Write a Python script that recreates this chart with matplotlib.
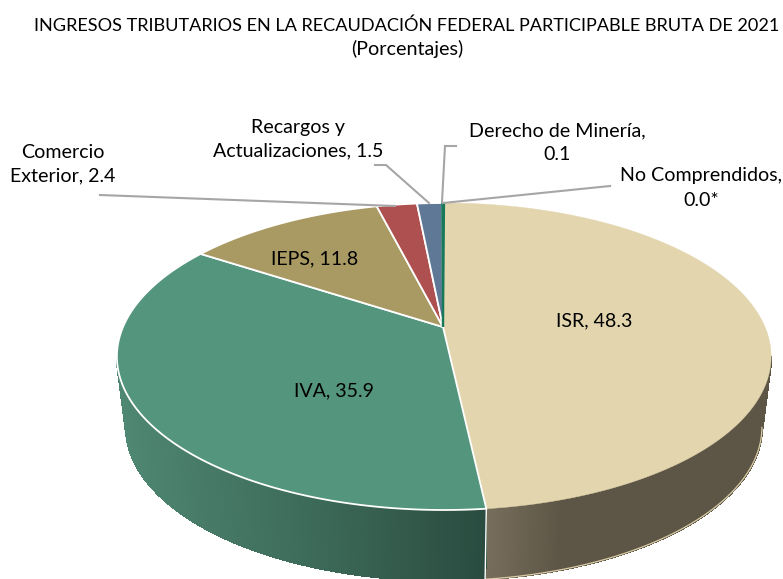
import numpy as np
import matplotlib
matplotlib.use("Agg")
import matplotlib.pyplot as plt
from matplotlib.collections import LineCollection, PolyCollection

plt.rcParams['font.family'] = ['Lato', 'DejaVu Sans']

title_lines = ["INGRESOS TRIBUTARIOS EN LA RECAUDACIÓN FEDERAL PARTICIPABLE BRUTA DE 2021", "(Porcentajes)"]
categories = ["ISR", "IVA", "IEPS", "Comercio Exterior", "Recargos y Actualizaciones", "Derecho de Minería", "No Comprendidos"]
values = [48.3, 35.9, 11.8, 2.4, 1.5, 0.1, 0.0]
top_colors = ["#E3D6AE", "#54957E", "#A89A62", "#AE5050", "#5F7896", "#17785A", "#17785A"]

# perspective model of the pie, in pixels
CX, APEX_Y, TOP_Y, BOT_Y, KX = 444.0, 327.0, 203.0, 510.0, 321.0
C = 59.0 / 307.0
A = TOP_Y * (1 + C) - APEX_Y
DEPTH, SHRINK = 70.5, 0.972


def top_point(frac):
    a = 2 * np.pi * np.asarray(frac)
    u, v = np.sin(a), np.cos(a)
    d = 1 + C * v
    return CX + KX * u / d, (A * v + APEX_Y) / d


def bottom_point(frac):
    x, y = top_point(frac)
    return CX + (x - CX) * SHRINK, y + DEPTH


fig = plt.figure(figsize=(7.83, 5.79), dpi=100)
ax = fig.add_axes([0, 0, 1, 1])
ax.set_xlim(0, 783)
ax.set_ylim(579, 0)
ax.axis("off")

edges = np.concatenate([[0], np.cumsum(values)]) / sum(values)

# walls: colour ramps against x; only the front of the rim is visible
ramps = {
    0: ([484, 560, 771], [(120, 110, 92), (93, 86, 70), (93, 86, 70)]),
    1: ([117, 300, 484], [(78, 135, 114), (62, 108, 90), (42, 76, 64)]),
}
for i, (xs, cols) in ramps.items():
    cols = np.array(cols) / 255
    ts = np.linspace(edges[i], edges[i + 1], 700)
    ts = ts[np.cos(2 * np.pi * ts) < -C]
    polys, face = [], []
    for t0, t1 in zip(ts[:-1], ts[1:]):
        xa, ya = top_point([t0, t1])
        xb, yb = bottom_point([t1, t0])
        polys.append(np.c_[np.r_[xa, xb], np.r_[ya, yb]])
        xm = (xa[0] + xa[1]) / 2
        face.append([np.interp(xm, xs, cols[:, k]) for k in range(3)])
    ax.add_collection(PolyCollection(polys, facecolors=face, edgecolors=face,
                                     linewidths=1.0, antialiaseds=False, zorder=2))
    bx, by = bottom_point(ts)
    if i == 0:
        ax.plot(bx, by, color="#D9CCA6", lw=0.9, zorder=3)
    else:
        segs = [np.c_[bx[j:j + 2], by[j:j + 2]] for j in range(len(bx) - 1)]
        ax.add_collection(LineCollection(segs, colors=face, linewidths=1.2, zorder=3))

# seam between the two walls
sx0, sy0 = top_point(edges[1])
sx1, sy1 = bottom_point(edges[1])
ax.plot([sx0, sx1], [sy0, sy1], color="white", lw=1.0, zorder=3)

# top faces
for i, (val, col) in enumerate(zip(values, top_colors)):
    ts = np.linspace(edges[i], edges[i + 1], 300)
    x, y = top_point(ts)
    px = np.r_[CX - 1, x]
    py = np.r_[APEX_Y, y]
    if i == 0:
        ax.fill(px, py, facecolor=col, edgecolor=col, lw=0.3, zorder=4)
    elif i == 5:
        ax.fill(px, py, facecolor=col, edgecolor=col, lw=1.6, zorder=6)
    elif val > 0:
        ax.fill(px, py, facecolor=col, edgecolor="white", lw=1.3, zorder=5)

# leader lines
leaders = [
    ([100, 395], [195, 206]),
    ([375, 386, 429], [165, 165, 203]),
    ([456, 445, 442], [146, 146, 202]),
    ([443, 610], [203, 186]),
]
for lx, ly in leaders:
    ax.plot(lx, ly, color="#A6A6A6", lw=1.5, zorder=7, solid_joinstyle="miter")

ax.text(407, 26, title_lines[0], ha="center", va="center", fontsize=13.05)
ax.text(407, 49, title_lines[1], ha="center", va="center", fontsize=14.2)

FS = 14.1
labels = [
    (594, 321, f"{categories[0]}, {values[0]}"),
    (334, 391, f"{categories[1]}, {values[1]}"),
    (315, 259, f"{categories[2]}, {values[2]}"),
    (63, 152, "Comercio"),
    (63, 176, f"Exterior, {values[3]}"),
    (298, 127, "Recargos y"),
    (298, 151, f"Actualizaciones, {values[4]}"),
    (557, 131, "Derecho de Minería,"),
    (557, 155, f"{values[5]}"),
    (701, 176, "No Comprendidos,"),
    (701, 200, f"{values[6]}*"),
]
for x, y, s in labels:
    ax.text(x, y, s, ha="center", va="center", fontsize=FS, color="black", zorder=8)

fig.savefig("out.png", dpi=100)
